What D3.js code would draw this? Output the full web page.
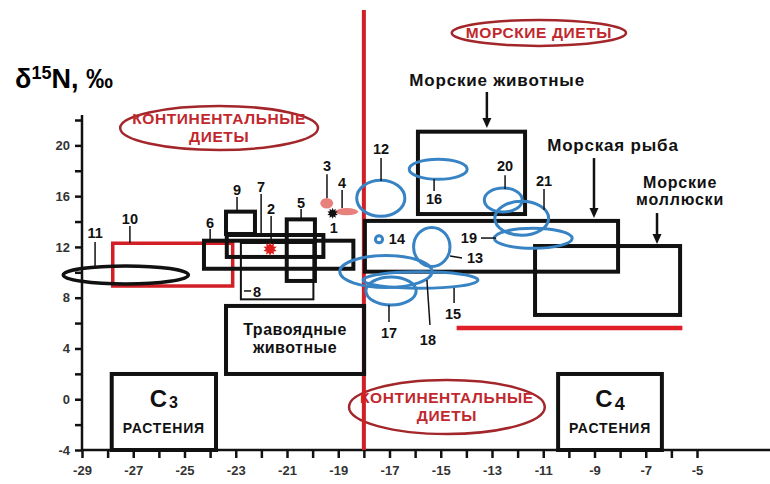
<!DOCTYPE html>
<html>
<head>
<meta charset="utf-8">
<script src="https://cdn.jsdelivr.net/npm/d3@7"></script>
<style>
  body { margin: 0; background: #fff; }
  svg { font-family: "Liberation Sans", Arial, sans-serif; font-weight: bold; }
</style>
</head>
<body>
<svg id="chart" width="770" height="484"></svg>
<script>
// δ13C (x) / δ15N (y) values
const xTicks = d3.range(-29, -4, 1);
const xLabels = d3.range(-29, -4, 2);
const yTicks = d3.range(-4, 23, 2);
const yLabels = [-4, 0, 4, 8, 12, 16, 20];

// rectangles: [name, x0, x1, y0, y1]
const blackBoxes = [
  ["marAnimals", -15.89, -11.71, 14.59, 21.08],
  ["marFish", -17.96, -8.08, 10.05, 14.05],
  ["marMollusc", -11.32, -5.66, 6.64, 12.07],
  ["herbivores", -23.38, -17.99, 1.99, 7.35],
  ["c3", -27.84, -23.77, -4, 1.99],
  ["c4", -10.42, -6.37, -4, 1.99],
  ["9", -23.38, -22.25, 13.02, 14.78],
  ["7", -23.35, -19.58, 11.21, 12.94],
  ["6", -24.24, -18.41, 10.28, 12.49],
  ["5", -21.01, -19.91, 9.32, 14.17]
];
const thinBoxes = [["8", -22.8, -19.97, 7.87, 12.31]];
const redBoxes = [["10", -27.8, -23.12, 8.92, 12.29]];

// ellipses: [name, cx, cy, rx, ry]
const blueEllipses = [
  ["12", -17.34, 15.83, 0.94, 1.42],
  ["16", -15.10, 18.12, 1.13, 0.79],
  ["20", -12.56, 15.70, 0.74, 0.95],
  ["21", -11.84, 14.26, 1.05, 1.34],
  ["19", -11.39, 12.68, 1.52, 0.79],
  ["14", -17.41, 12.60, 0.14, 0.28],
  ["13", -15.35, 12.00, 0.71, 1.54],
  ["18", -17.14, 10.06, 1.80, 1.26],
  ["15", -15.79, 9.39, 2.24, 0.65],
  ["17", -16.94, 8.53, 0.98, 1.10]
];
const blackEllipses = [["11", -27.29, 9.79, 2.44, 0.71]];
const pinkEllipses = [
  ["3", -19.45, 15.44, 0.25, 0.42],
  ["4", -18.67, 14.78, 0.45, 0.28]
];
// stars: [name, x, y, colour, size]
const stars = [
  ["1", -19.22, 14.65, "#111", 5.5],
  ["2", -21.66, 11.84, "#e01b1b", 7]
];

// number labels: [text, x, y]
const numLabels = [
  ["11", -28.49, 13.10], ["10", -27.13, 14.20], ["6", -24.0, 13.89],
  ["9", -22.95, 16.49], ["7", -22.01, 16.72], ["2", -21.62, 14.99],
  ["5", -20.45, 15.46], ["1", -19.17, 13.49], ["3", -19.44, 18.34],
  ["4", -18.85, 17.04], ["12", -17.33, 19.72], ["16", -15.26, 15.78],
  ["20", -12.49, 18.34], ["21", -10.97, 17.19], ["19", -13.9, 12.70],
  ["14", -16.71, 12.62], ["13", -13.66, 11.13], ["15", -14.52, 6.72],
  ["17", -17.02, 5.22], ["18", -15.5, 4.67], ["8", -22.17, 8.45]
];
// leader lines: [x1, y1, x2, y2]
const leaders = [
  [-28.49, 12.39, -28.49, 10.50], [-27.13, 13.65, -27.13, 12.31],
  [-24.0, 13.41, -24.0, 12.55], [-22.95, 15.94, -22.95, 14.83],
  [-22.01, 16.17, -22.01, 12.94], [-21.62, 14.44, -21.62, 12.31],
  [-20.45, 14.99, -20.45, 14.20], [-19.44, 17.72, -19.44, 15.85],
  [-18.85, 16.49, -18.85, 15.07], [-17.33, 19.01, -17.33, 17.19],
  [-15.26, 17.35, -15.26, 16.41], [-12.49, 17.64, -12.49, 16.56],
  [-10.97, 16.56, -10.97, 14.91], [-13.43, 12.70, -12.84, 12.70],
  [-14.64, 11.29, -14.17, 11.13], [-14.48, 8.76, -14.48, 7.58],
  [-17.02, 7.42, -17.02, 6.09], [-15.54, 9.39, -15.42, 5.85],
  [-22.68, 8.53, -22.4, 8.53]
];
// group captions with arrows: [lines, x, y, arrowX, arrowTop, arrowBottom]
const captions = [
  [["Морские животные"], -12.8, 25.15, -13.2, 24.21, 21.37],
  [["Морская рыба"], -8.28, 20.03, -9.02, 19.0, 14.28],
  [["Морские", "моллюски"], -5.66, 17.1, -6.56, 14.67, 12.23]
];
// diet ovals: [lines, cx, cy, rx, ry]
const dietOvals = [
  [["КОНТИНЕНТАЛЬНЫЕ", "ДИЕТЫ"], -23.65, 21.37, 3.86, 1.73],
  [["МОРСКИЕ ДИЕТЫ"], -11.17, 28.86, 3.40, 1.02],
  [["КОНТИНЕНТАЛЬНЫЕ", "ДИЕТЫ"], -14.76, -0.61, 3.82, 2.13]
];
const marineDivide = -18;
const redBar = [-14.38, -5.57, 5.61];

const svg = d3.select("#chart");
const x = d3.scaleLinear().domain([-29, -5]).range([82, 697]);
const y = d3.scaleLinear().domain([-4, 22]).range([450, 120]);
const sx = (v) => Math.abs(x(v) - x(0));
const sy = (v) => Math.abs(y(v) - y(0));

// title
const title = svg.append("text").attr("x", 15).attr("y", 88)
  .attr("font-size", 27).attr("fill", "#000");
title.append("tspan").text("δ");
title.append("tspan").attr("font-size", 18).attr("dy", -9).text("15");
title.append("tspan").attr("dy", 9).text("N, ‰");

// axes
const xAxis = svg.append("g").attr("transform", `translate(0,${y(-4)})`)
  .call(d3.axisBottom(x).tickValues(xTicks).tickSize(8)
    .tickFormat((d) => xLabels.includes(d) ? d : ""));
xAxis.select(".domain").attr("d", `M${x(-29)},0H770`);
const yAxis = svg.append("g").attr("transform", `translate(${x(-29)},0)`)
  .call(d3.axisLeft(y).tickValues(yTicks).tickSize(7).tickPadding(5)
    .tickFormat((d) => yLabels.includes(d) ? d : ""));
yAxis.select(".domain").attr("d", `M0,${y(-4)}V${y(22.4)}`);
[xAxis, yAxis].forEach((g) => {
  g.selectAll(".domain, line").attr("stroke", "#111").attr("stroke-width", 2.5);
  g.selectAll("text").attr("font-size", 13).attr("font-weight", "bold")
    .attr("fill", "#333").attr("font-family", "Liberation Sans, Arial, sans-serif");
});
xAxis.selectAll("text").attr("dy", "1.1em");

// diet ovals
const ov = svg.append("g").selectAll("g").data(dietOvals).join("g");
ov.append("ellipse")
  .attr("cx", (d) => x(d[1])).attr("cy", (d) => y(d[2]))
  .attr("rx", (d) => sx(d[3])).attr("ry", (d) => sy(d[4]))
  .attr("fill", "none").attr("stroke", "#a3262b").attr("stroke-width", 2.5);
ov.each(function (d) {
  const n = d[0].length;
  d3.select(this).selectAll("text").data(d[0]).join("text")
    .attr("x", x(d[1])).attr("y", (t, i) => y(d[2]) + (i - (n - 1) / 2) * 18)
    .attr("text-anchor", "middle").attr("dominant-baseline", "central")
    .attr("font-size", 15.5).attr("letter-spacing", 0.6).attr("fill", "#c1272d").text((t) => t);
});

// red lines
svg.append("line").attr("x1", x(marineDivide)).attr("x2", x(marineDivide))
  .attr("y1", 10).attr("y2", y(-4))
  .attr("stroke", "#d21f26").attr("stroke-width", 4);
svg.append("line").attr("x1", x(redBar[0])).attr("x2", x(redBar[1]))
  .attr("y1", y(redBar[2])).attr("y2", y(redBar[2]))
  .attr("stroke", "#e01e26").attr("stroke-width", 4.5);

function rects(data, colour, width) {
  svg.append("g").selectAll("rect").data(data).join("rect")
    .attr("x", (d) => x(d[1])).attr("width", (d) => x(d[2]) - x(d[1]))
    .attr("y", (d) => y(d[4])).attr("height", (d) => y(d[3]) - y(d[4]))
    .attr("fill", "none").attr("stroke", colour).attr("stroke-width", width);
}
rects(redBoxes, "#d21f26", 3.5);
rects(thinBoxes, "#111", 2);
rects(blackBoxes, "#111", 4);

function ellipses(data, colour, width, fill) {
  svg.append("g").selectAll("ellipse").data(data).join("ellipse")
    .attr("cx", (d) => x(d[1])).attr("cy", (d) => y(d[2]))
    .attr("rx", (d) => sx(d[3])).attr("ry", (d) => sy(d[4]))
    .attr("fill", fill).attr("stroke", colour).attr("stroke-width", width);
}
ellipses(blackEllipses, "#111", 3.5, "none");
ellipses(blueEllipses, "#3783c4", 3, "none");
ellipses(pinkEllipses, "none", 0, "#e8807c");

// stars
svg.append("g").selectAll("path").data(stars).join("path")
  .attr("transform", (d) => `translate(${x(d[1])},${y(d[2])})`)
  .attr("d", (d) => d3.lineRadial().curve(d3.curveLinearClosed)
    .angle((v, i) => i * Math.PI / 10).radius((v, i) => i % 2 ? d[4] * 0.6 : d[4])(d3.range(20)))
  .attr("fill", (d) => d[3]);

// leader lines and numbers
svg.append("g").selectAll("line").data(leaders).join("line")
  .attr("x1", (d) => x(d[0])).attr("y1", (d) => y(d[1]))
  .attr("x2", (d) => x(d[2])).attr("y2", (d) => y(d[3]))
  .attr("stroke", "#111").attr("stroke-width", 1.5);
svg.append("g").selectAll("text").data(numLabels).join("text")
  .attr("x", (d) => x(d[1])).attr("y", (d) => y(d[2]))
  .attr("text-anchor", "middle").attr("dominant-baseline", "central")
  .attr("font-size", 14.5).attr("fill", "#111").text((d) => d[0]);

// box captions
const herb = blackBoxes.find((d) => d[0] === "herbivores");
["Травоядные", "животные"].forEach((t, i) => svg.append("text")
  .attr("x", x((herb[1] + herb[2]) / 2)).attr("y", y(herb[4]) + 29 + i * 18)
  .attr("text-anchor", "middle").attr("font-size", 16).attr("letter-spacing", 0.5)
  .attr("fill", "#111").text(t));
[["c3", "3", 16, 1], ["c4", "4", 18, 3]].forEach(([key, sub, subSize, subDy]) => {
  const b = blackBoxes.find((d) => d[0] === key);
  const cx = x((b[1] + b[2]) / 2);
  const top = y(b[4]);
  const c = svg.append("text").attr("x", cx).attr("y", top + 33)
    .attr("text-anchor", "middle").attr("font-size", 24).attr("fill", "#111");
  c.append("tspan").text("C");
  c.append("tspan").attr("font-size", subSize).attr("dx", 2).attr("dy", subDy).text(sub);
  svg.append("text").attr("x", cx).attr("y", top + 59)
    .attr("text-anchor", "middle").attr("font-size", 14).attr("letter-spacing", 0.8)
    .attr("fill", "#111").text("РАСТЕНИЯ");
});

// group captions with arrows
captions.forEach(([lines, cx, cy, ax, a0, a1]) => {
  lines.forEach((t, i) => svg.append("text").attr("x", x(cx)).attr("y", y(cy) + i * 17)
    .attr("text-anchor", "middle").attr("dominant-baseline", "central")
    .attr("font-size", lines.length > 1 ? 16 : 17).attr("letter-spacing", 0.8)
    .attr("fill", "#111").text(t));
  svg.append("line").attr("x1", x(ax)).attr("x2", x(ax))
    .attr("y1", y(a0)).attr("y2", y(a1) - 8)
    .attr("stroke", "#111").attr("stroke-width", 2.5);
  svg.append("path")
    .attr("d", `M${x(ax) - 4.5},${y(a1) - 10}L${x(ax) + 4.5},${y(a1) - 10}L${x(ax)},${y(a1)}Z`)
    .attr("fill", "#111");
});
</script>
</body>
</html>
